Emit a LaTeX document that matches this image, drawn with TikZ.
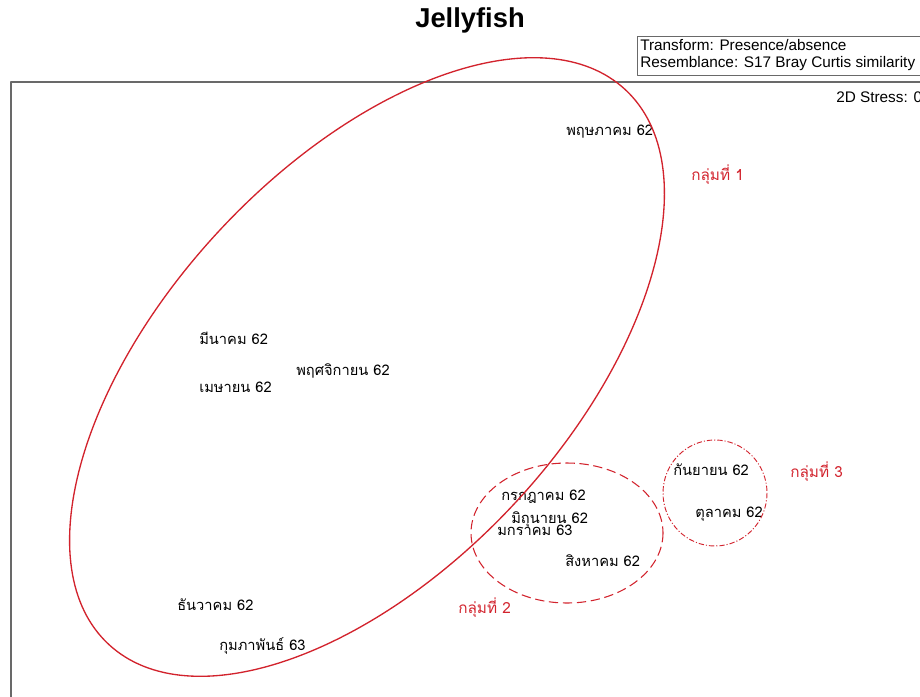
\documentclass[tikz,border=0pt]{standalone}
\usepackage{fontspec}
\setmainfont{Liberation Sans}
\newfontfamily\thaifont[Script=Thai]{Loma}
\definecolor{grpred}{RGB}{210,35,45}
\definecolor{framegray}{RGB}{105,105,105}
\begin{document}
\begin{tikzpicture}[x=0.75pt,y=-0.75pt,line join=round,
  month/.style={anchor=west,inner sep=0pt,font=\thaifont\fontsize{11}{13}\selectfont},
  grp/.style={month,text=grpred,font=\thaifont\fontsize{11.5}{13}\selectfont},
  info/.style={anchor=west,inner sep=0pt,font=\fontsize{11.5}{13}\selectfont},
  ring/.style={grpred,line width=1pt}]
\clip (0,0) rectangle (920,696);
%
\node[font=\bfseries\fontsize{20.5}{24}\selectfont] (title) at (470,20) {Jellyfish};
\draw[framegray,line width=0.7pt] (637,36) rectangle (935,75);
\node[info] (transf) at (640,45) {Transform: Presence/absence};
\node[info] (resem) at (640,64) {Resemblance: S17 Bray Curtis similarity};
\draw[framegray,line width=1.4pt] (11,705)--(11,82)--(930,82);
\node[info] (stress) at (836,97) {2D Stress: 0};
%
\node[month] (may) at (566,132) {พฤษภาคม 62};
\node[month] (mar) at (199,338) {มีนาคม 62};
\node[month] (nov) at (296,371) {พฤศจิกายน 62};
\node[month] (apr) at (199,387) {เมษายน 62};
\node[month] (jul) at (501,497) {กรกฎาคม 62};
\node[month] (jun) at (511,520) {มิถุนายน 62};
\node[month] (jan) at (497,530) {มกราคม 63};
\node[month] (aug) at (565,561) {สิงหาคม 62};
\node[month] (sep) at (673,470) {กันยายน 62};
\node[month] (oct) at (695,514) {ตุลาคม 62};
\node[month] (dec) at (177,605) {ธันวาคม 62};
\node[month] (feb) at (219,646) {กุมภาพันธ์ 63};
%
\node[grp] (g1) at (691,175) {กลุ่มที่ 1};
\node[grp] (g2) at (458,608) {กลุ่มที่ 2};
\node[grp] (g3) at (790,472) {กลุ่มที่ 3};
%
\draw[ring,rotate around={47:(367,367)}] (367,367) ellipse [x radius=379,y radius=201];
\draw[ring,line width=0.8pt,dash pattern=on 7pt off 3.5pt] (567,533) ellipse [x radius=96,y radius=70];
\draw[ring,line width=0.7pt,dash pattern=on 4pt off 1.5pt on 0.8pt off 1.5pt] (715,493) ellipse [x radius=52,y radius=53];
\end{tikzpicture}
\end{document}
